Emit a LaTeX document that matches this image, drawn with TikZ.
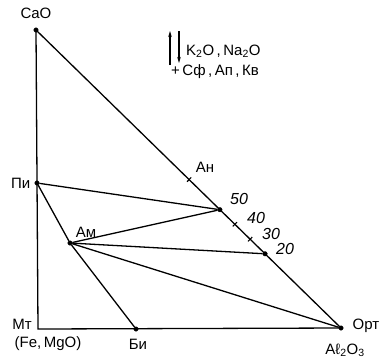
\documentclass[tikz,border=0pt]{standalone}
\usepackage{fontspec}
\setmainfont{Liberation Sans}
\usetikzlibrary{positioning,calc,arrows.meta}
\tikzset{
  vertex/.style={draw,shape=circle,fill=black,minimum size=4.5pt,inner sep=0pt},
  tie/.style={draw=black,line width=1.3pt},
  tick/.style={draw=black,line width=1.1pt},
  mobile/.style={draw=black,line width=1.2pt,-{Stealth[length=6pt,width=3.5pt]}},
  lbl/.style={inner sep=0pt,font=\fontsize{15}{17}\selectfont},
  num/.style={inner sep=0pt,font=\fontsize{16}{18}\selectfont\itshape}
 }

\begin{document}
\begin{tikzpicture}[x=1pt,y=-1pt]
    \useasboundingbox (0,0) rectangle (385,360);
    % corners and phases
    \node[vertex] (cao) at (36,30) {};
    \coordinate (mt) at (38,329);
    \node[vertex] (opr) at (341,328) {};
    \node[vertex] (pi) at (37,183) {};
    \node[vertex] (bi) at (136,329) {};
    \node[vertex] (am) at (70,243) {};
    \node[vertex] (p50) at ($(cao)!0.603!(opr)$) {};
    \node[vertex] (p20) at ($(cao)!0.751!(opr)$) {};
    \coordinate (an) at ($(cao)!0.502!(opr)$);
    \coordinate (p40) at ($(cao)!0.652!(opr)$);
    \coordinate (p30) at ($(cao)!0.702!(opr)$);
    % triangle
    \draw[tie] (cao.center) -- (mt) -- (opr.center) -- (cao.center);
    % tie lines
    \draw[tie] (pi) -- (p50);
    \draw[tie] (am) -- (p50);
    \draw[tie] (am) -- (p20);
    \draw[tie] (am) -- (opr);
    \draw[tie] (pi) -- (am) -- (bi);
    % ticks
    \foreach \t in {an,p40,p30}
      \draw[tick] ($(\t)!3pt!90:(opr)$) -- ($(\t)!3pt!-90:(opr)$);
    % labels
    \node[lbl] (lcao) at (36,13) {CaO};
    \node[lbl,left=4pt of pi] (lpi) {Пи};
    \node[lbl] (lam) at (86,232) {Ам};
    \node[lbl] (lan) at (205,167) {Ан};
    \node[num] (l50) at (239,199) {50};
    \node[num] (l40) at (256,218) {40};
    \node[num] (l30) at (271,234) {30};
    \node[num] (l20) at (285,249) {20};
    \node[lbl] (lmt) at (22,324) {Мт};
    \node[lbl] (lfe) at (48,344) {(Fe,\,MgO)};
    \node[lbl] (lbi) at (138,344) {Би};
    \node[lbl] (lopr) at (366,326) {Орт};
    \node[lbl] (lal) at (345,350) {Aℓ\textsubscript{2}O\textsubscript{3}};
    % mobile components
    \coordinate (up0) at (170,65);
    \coordinate (up1) at (170,31);
    \coordinate (dn0) at (179,31);
    \coordinate (dn1) at (179,63);
    \draw[mobile] (up0) -- (up1);
    \draw[mobile] (dn0) -- (dn1);
    \node[lbl,anchor=west] (lk) at (186,51) {K\textsubscript{2}O\,,\,Na\textsubscript{2}O};
    \node[lbl,anchor=west] (lsf) at (171,72) {+\,Сф\,,\,Ап\,,\,Кв};
\end{tikzpicture}
\end{document}
